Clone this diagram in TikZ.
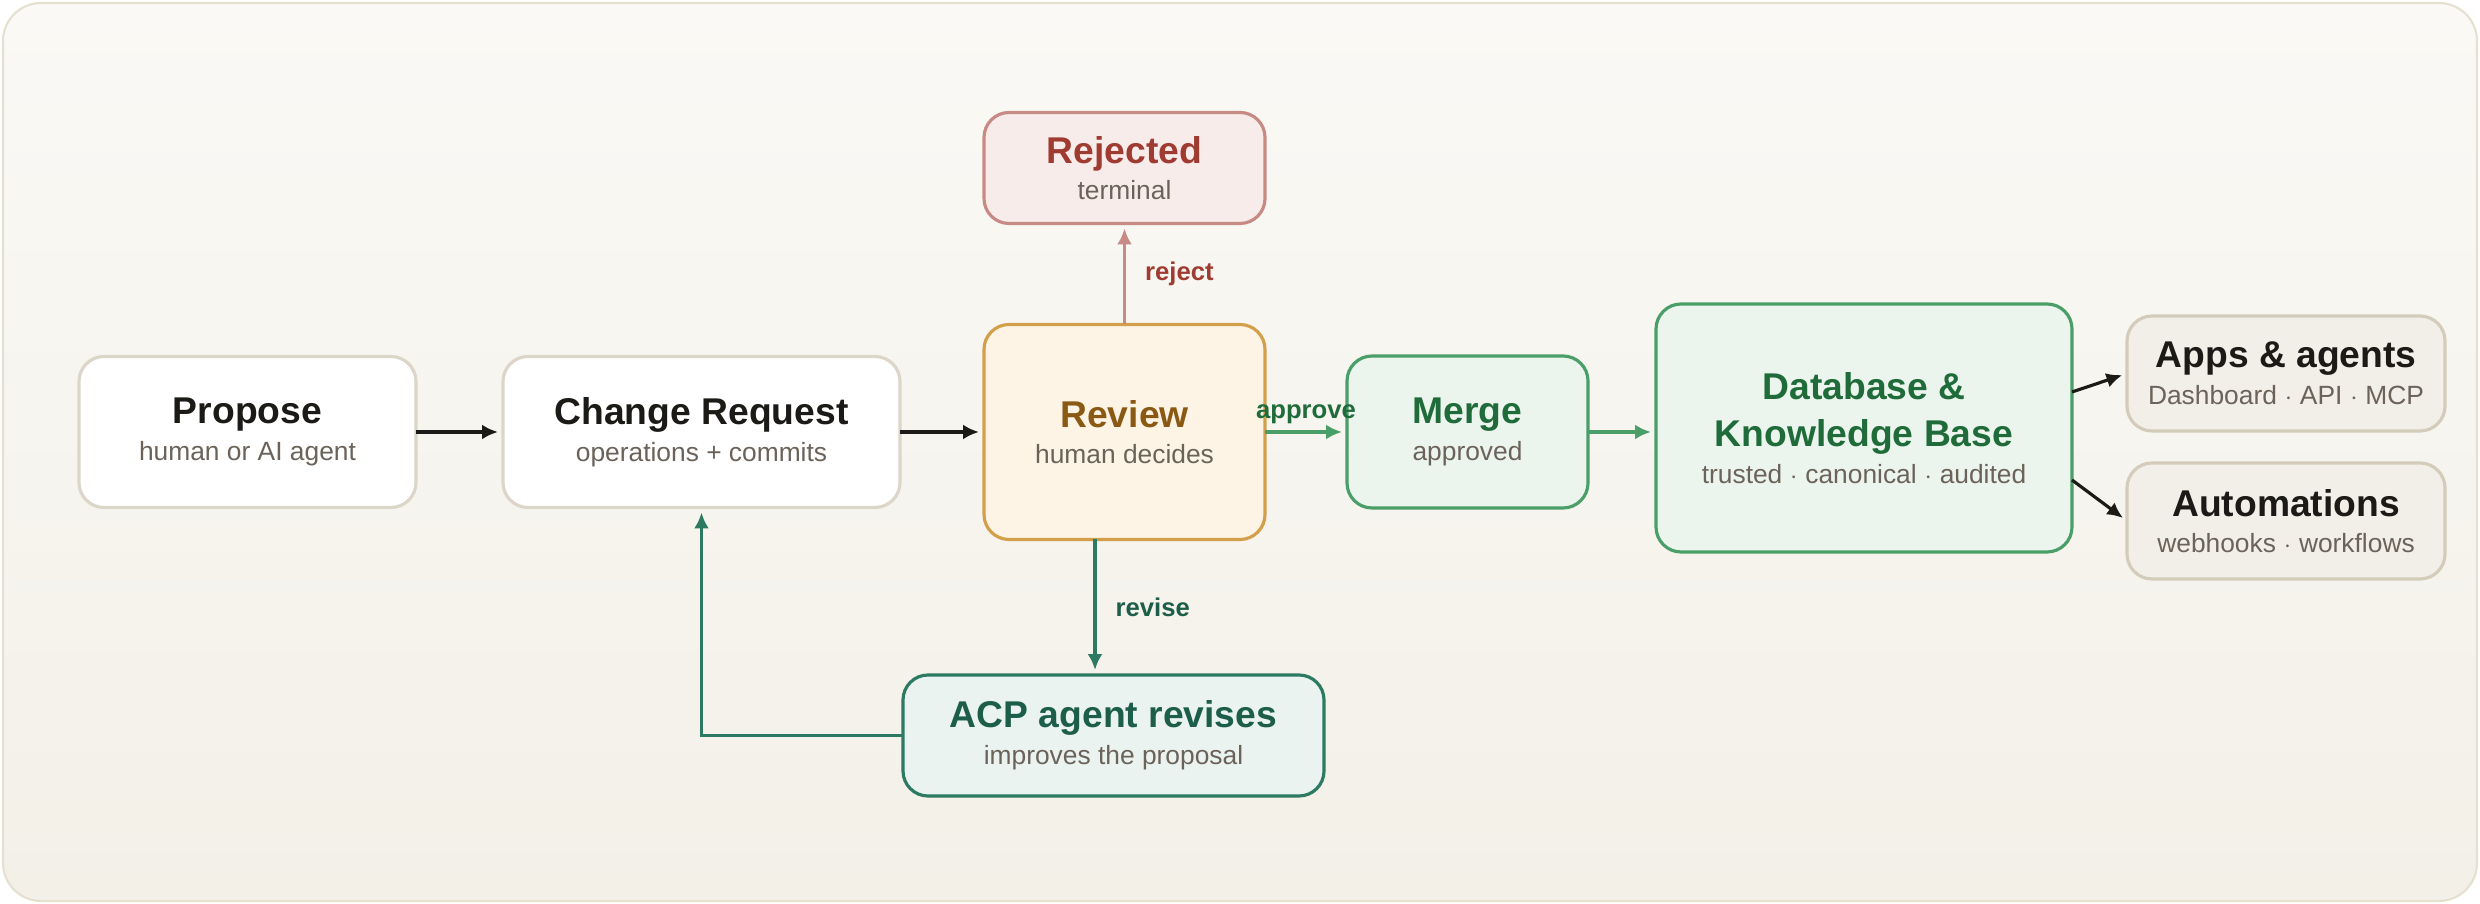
\documentclass[tikz,border=0pt]{standalone}
\usepackage{fontspec}
\setmainfont{Liberation Sans}
\usetikzlibrary{arrows.meta, positioning, calc}

\definecolor{bgtop}{HTML}{FAF9F5}
\definecolor{bgbot}{HTML}{F3F0E8}
\definecolor{bgline}{HTML}{E6E0D1}
\definecolor{subtxt}{HTML}{6B635A}
\definecolor{inktxt}{HTML}{1C1A17}
\definecolor{neutline}{HTML}{DCD6C8}
\definecolor{outfill}{HTML}{F2EFE8}
\definecolor{outline}{HTML}{D4CCBB}
\definecolor{revfill}{HTML}{FDF4E6}
\definecolor{revline}{HTML}{D49F4B}
\definecolor{revtxt}{HTML}{8A5A14}
\definecolor{rejfill}{HTML}{F8ECEA}
\definecolor{rejline}{HTML}{C88A84}
\definecolor{rejtxt}{HTML}{A03B32}
\definecolor{okfill}{HTML}{ECF5ED}
\definecolor{okline}{HTML}{4A9E68}
\definecolor{oktxt}{HTML}{1F6B3A}
\definecolor{acpfill}{HTML}{EAF3EF}
\definecolor{acpline}{HTML}{2D7A63}
\definecolor{acptxt}{HTML}{1D5E4A}

\newcommand{\wfttl}[1]{{\fontsize{10.6}{12.5}\selectfont\bfseries #1}}

\begin{document}
\begin{tikzpicture}[
  font=\fontsize{7.5}{10.4}\selectfont,
  node distance=0.85cm,
  wfbox/.style={draw=neutline, fill=white, line width=0.9pt, rounded corners=0.25cm,
                align=center, inner sep=3pt, outer sep=0pt, text=subtxt},
  wfreview/.style={wfbox, draw=revline, fill=revfill},
  wfreject/.style={wfbox, draw=rejline, fill=rejfill},
  wfmerge/.style={wfbox, draw=okline, fill=okfill},
  wfacp/.style={wfbox, draw=acpline, fill=acpfill},
  wfout/.style={wfbox, draw=outline, fill=outfill, minimum width=3.18cm},
  wfline/.style={draw=inktxt, line width=0.9pt},
  wfar/.style={wfline, shorten >=0.05cm, -{Latex[length=4.5pt,width=4.2pt]}},
  lab/.style={font=\fontsize{7.3}{9}\selectfont\bfseries, inner sep=2pt}
]

% cornice e sfondo
\useasboundingbox (0,0) rectangle (24.8,9.04);
\path[draw=bgline, line width=0.6pt, top color=bgtop, bottom color=bgbot,
      rounded corners=0.38cm] (0.03,0.03) rectangle (24.77,9.01);

%--------------------------------------------------------------
% Riga principale
%--------------------------------------------------------------
\node[wfbox, minimum width=3.37cm, minimum height=1.51cm] (propose) at (2.475,4.72)
  {\wfttl{\color{inktxt}Propose}\\ human or AI agent};

\node[wfbox, right=0.87cm of propose, minimum width=3.97cm, minimum height=1.51cm] (change)
  {\wfttl{\color{inktxt}Change Request}\\ operations + commits};

\node[wfreview, right=0.84cm of change, minimum width=2.81cm, minimum height=2.15cm] (review)
  {\wfttl{\color{revtxt}Review}\\ human decides};

\node[wfmerge, right=0.82cm of review, minimum width=2.41cm, minimum height=1.52cm] (merge)
  {\wfttl{\color{oktxt}Merge}\\ approved};

\node[wfmerge, right=0.68cm of merge, yshift=0.04cm, minimum width=4.16cm, minimum height=2.48cm] (kb)
  {\wfttl{\color{oktxt}Database \&}\\[3pt] \wfttl{\color{oktxt}Knowledge Base}\\ trusted $\cdot$ canonical $\cdot$ audited};

%--------------------------------------------------------------
% Esiti
%--------------------------------------------------------------
\node[wfreject, above=1.01cm of review, minimum width=2.81cm, minimum height=1.11cm] (rejected)
  {\wfttl{\color{rejtxt}Rejected}\\ terminal};

\node[wfacp, minimum width=4.21cm, minimum height=1.21cm] (acp) at (11.135,1.685)
  {\wfttl{\color{acptxt}ACP agent revises}\\ improves the proposal};

\node[wfout, minimum height=1.15cm] (apps) at (22.86,5.305)
  {\wfttl{\color{inktxt}Apps \& agents}\\ Dashboard $\cdot$ API $\cdot$ MCP};

\node[wfout, minimum height=1.16cm] (autom) at (22.86,3.83)
  {\wfttl{\color{inktxt}Automations}\\ webhooks $\cdot$ workflows};

%--------------------------------------------------------------
% Collegamenti
%--------------------------------------------------------------
\draw[wfar] (propose.east) -- (change.west);
\draw[wfar] (change.east) -- (review.west);

\draw[wfar, draw=okline] (review.east) -- (merge.west)
  node[lab, midway, above, text=oktxt] {approve};
\draw[wfar, draw=okline] (merge.east) -- (merge.east -| kb.west);

\draw[wfar, draw=rejline] (review.north) -- (rejected.south)
  node[lab, midway, right=0.12cm, text=rejtxt] {reject};

\draw[wfar, draw=acpline] ([xshift=-0.295cm]review.south) -- ([xshift=-0.295cm]review.south |- acp.north)
  node[lab, midway, right=0.12cm, text=acptxt] {revise};
\draw[wfar, draw=acpline] (acp.west) -| (change.south);

\draw[wfar] ([yshift=0.36cm]kb.east) -- (apps.west);
\draw[wfar] ([yshift=-0.52cm]kb.east) -- (autom.west);

\end{tikzpicture}
\end{document}
